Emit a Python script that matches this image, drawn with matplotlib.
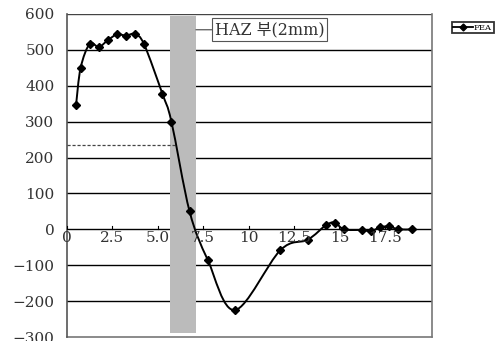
import matplotlib
matplotlib.use("Agg")
import matplotlib.pyplot as plt
from matplotlib.path import Path
from matplotlib.patches import PathPatch
from matplotlib.lines import Line2D

# ---- data ----
x_pos = [0.5, 0.75, 1.25, 1.75, 2.25, 2.75, 3.25, 3.75, 4.25, 5.25, 5.75,
         6.75, 7.75, 9.25, 11.75, 13.25, 14.25, 14.75, 15.25, 16.25, 16.75,
         17.25, 17.75, 18.25, 19.0]
fea = [347, 450, 517, 508, 527, 543, 540, 544, 515, 378, 300,
       50, -85, -225, -58, -29, 11, 19, 0, -2, -5,
       6, 8, 0, 0]
series_name = "FEA"
x_ticks = [0, 2.5, 5.0, 7.5, 10, 12.5, 15, 17.5]
x_tick_labels = ["0", "2.5", "5.0", "7.5", "10", "12.5", "15", "17.5"]
y_ticks = [-300, -200, -100, 0, 100, 200, 300, 400, 500, 600]
y_tick_labels = ["\u2212300", "\u2212200", "\u2212100", "0", "100", "200", "300", "400", "500", "600"]
haz_span = (5.67, 7.1)
haz_ylim = (-288, 593)
haz_label = "HAZ 부(2mm)"
dash_level = 235
dash_xend = 5.95

fonts = ["DejaVu Serif", "Noto Sans CJK KR"]

fig = plt.figure(figsize=(5.0, 3.41), dpi=100)
ax = fig.add_axes([0.134, 0.0117, 0.73, 0.9473])
ax.set_xlim(0, 20.1)
ax.set_ylim(-300, 600)

# grid lines
for yv in y_ticks:
    if yv not in (-300, 600):
        ax.axhline(yv, color="black", lw=1.0, zorder=1)
ax.axhline(600, color="#444444", lw=1.0, zorder=1)
ax.axhline(-300, color="#777777", lw=1.2, zorder=1, clip_on=False)

# HAZ band
ax.fill_between(haz_span, haz_ylim[0], haz_ylim[1], color="#bbbbbb", lw=0, zorder=2)

# dashed line
ax.plot([0, dash_xend], [dash_level, dash_level], color="#444444", lw=0.9,
        ls=(0, (2.5, 1.5)), zorder=3)

# smooth line via cubic bezier (Excel-like smoothing)
verts = [(x_pos[0], fea[0])]
codes = [Path.MOVETO]
n = len(x_pos)
for i in range(n - 1):
    p0 = (x_pos[i - 1], fea[i - 1]) if i > 0 else (x_pos[i], fea[i])
    p1 = (x_pos[i], fea[i])
    p2 = (x_pos[i + 1], fea[i + 1])
    p3 = (x_pos[i + 2], fea[i + 2]) if i + 2 < n else p2
    c1 = (p1[0] + (p2[0] - p0[0]) / 6, p1[1] + (p2[1] - p0[1]) / 6)
    c2 = (p2[0] - (p3[0] - p1[0]) / 6, p2[1] - (p3[1] - p1[1]) / 6)
    verts += [c1, c2, p2]
    codes += [Path.CURVE4] * 3
ax.add_patch(PathPatch(Path(verts, codes), fill=False, ec="black", lw=1.4, zorder=4))
ax.plot(x_pos, fea, ls="none", marker="D", ms=4.5, color="black", zorder=5)

# spines
for s in ["top", "bottom"]:
    ax.spines[s].set_visible(False)
ax.spines["left"].set_color("#555555")
ax.spines["right"].set_color("#777777")
ax.spines["left"].set_linewidth(1.2)
ax.spines["right"].set_linewidth(1.2)

# x axis at zero
ax.set_xticks(x_ticks)
ax.set_xticklabels([])
ax.tick_params(axis="x", length=0)
for xv, lab in zip(x_ticks, x_tick_labels):
    ax.plot([xv, xv], [0, 8], color="black", lw=0.8, zorder=3)
    ax.text(xv, -6, lab, ha="center", va="top", fontsize=11, family=fonts,
            color="#333333", zorder=6)

ax.set_yticks(y_ticks)
ax.set_yticklabels(y_tick_labels, family=fonts, fontsize=11, color="#333333")
ax.tick_params(axis="y", length=0, pad=9)

# annotation
ax.annotate(haz_label, xy=(haz_span[1], 556), xytext=(8.15, 556),
            ha="left", va="center", fontsize=11.5, family=fonts, color="#333333",
            bbox=dict(boxstyle="square,pad=0.18", fc="white", ec="#555555", lw=0.8),
            arrowprops=dict(arrowstyle="-", color="#444444", lw=0.8,
                            shrinkA=0, shrinkB=0), zorder=7)

# legend
h = Line2D([], [], color="black", marker="D", ms=3.5, lw=1.3)
leg = fig.legend([h], [series_name], loc="upper left", bbox_to_anchor=(0.903, 0.935),
                 frameon=True, fancybox=False, edgecolor="black",
                 handlelength=2.4, handletextpad=0.1, borderpad=0.2,
                 borderaxespad=0, prop={"family": fonts, "size": 6})
leg.get_frame().set_linewidth(1.3)

fig.savefig("out.png", dpi=100)
